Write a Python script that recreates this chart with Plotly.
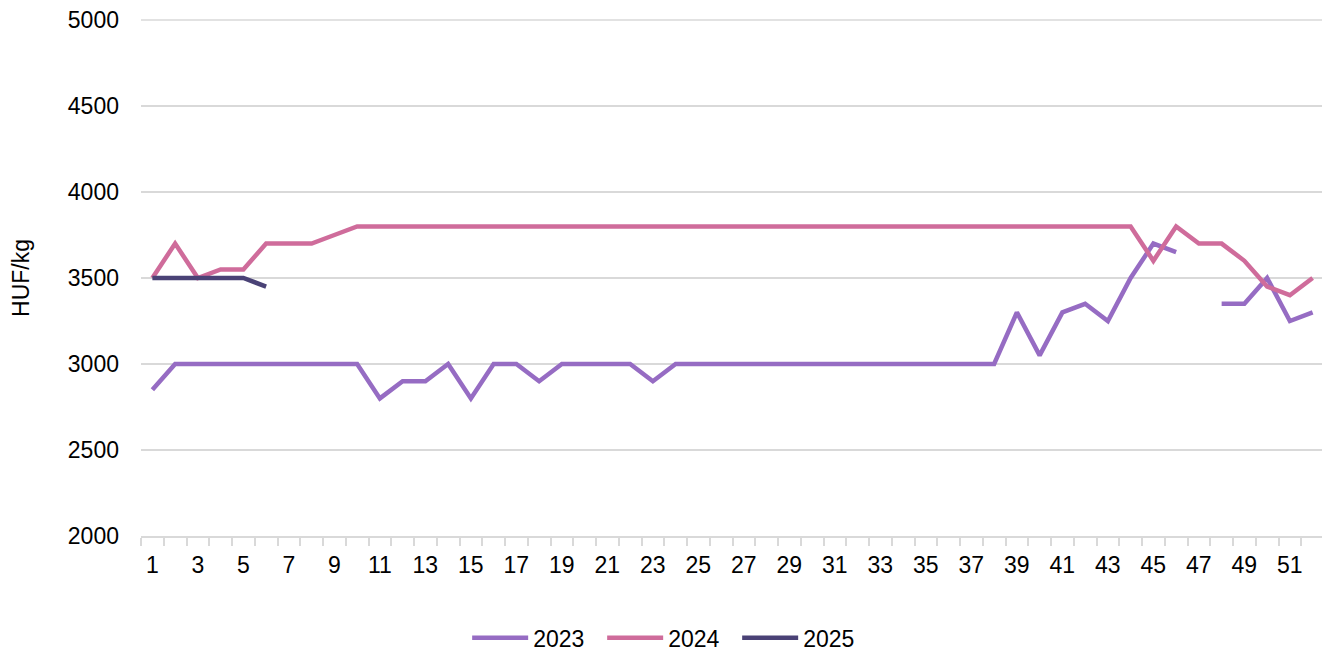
import plotly.graph_objects as go

weeks = list(range(1, 53))

y2023 = [2850, 3000, 3000, 3000, 3000, 3000, 3000, 3000, 3000, 3000,
         2800, 2900, 2900, 3000, 2800, 3000, 3000, 2900, 3000, 3000,
         3000, 3000, 2900, 3000, 3000, 3000, 3000, 3000, 3000, 3000,
         3000, 3000, 3000, 3000, 3000, 3000, 3000, 3000, 3300, 3050,
         3300, 3350, 3250, 3500, 3700, 3650, None, 3350, 3350, 3500,
         3250, 3300]

y2024 = [3500, 3700, 3500, 3550, 3550, 3700, 3700, 3700, 3750, 3800,
         3800, 3800, 3800, 3800, 3800, 3800, 3800, 3800, 3800, 3800,
         3800, 3800, 3800, 3800, 3800, 3800, 3800, 3800, 3800, 3800,
         3800, 3800, 3800, 3800, 3800, 3800, 3800, 3800, 3800, 3800,
         3800, 3800, 3800, 3800, 3600, 3800, 3700, 3700, 3600, 3450,
         3400, 3500]

y2025 = [3500, 3500, 3500, 3500, 3500, 3450]

tick_labels = [str(w) for w in range(1, 53, 2)]
y_ticks = [2000, 2500, 3000, 3500, 4000, 4500, 5000]

series = [("2023", y2023, "#966CC3"), ("2024", y2024, "#CF6C9B"), ("2025", y2025, "#4A4276")]

fig = go.Figure()
for name, vals, col in series:
    fig.add_trace(go.Scatter(x=weeks[:len(vals)], y=vals, name=name, mode="lines",
                             line=dict(color=col, width=4.5), connectgaps=False))

font = dict(family="Liberation Sans, Arial, sans-serif", size=23, color="#000000")

fig.update_layout(
    width=1322, height=646,
    margin=dict(l=133, r=6, t=12, b=118),
    plot_bgcolor="white", paper_bgcolor="white",
    font=font,
    showlegend=True,
    legend=dict(orientation="h", xref="container", x=0.5005, xanchor="center",
                yref="container", y=0.025, yanchor="middle", font=font,
                itemwidth=56,
                entrywidth=64, entrywidthmode="pixels", traceorder="normal"),
    xaxis=dict(range=[0.5, 52.5], tickmode="array", automargin=False,
               tickvals=list(range(1, 53, 2)), ticktext=tick_labels,
               ticks="", showgrid=False, showline=True, linecolor="#D9D9D9", linewidth=1.5,
               ticklabelstandoff=8, zeroline=False,
               minor=dict(tickmode="array", tickvals=[i + 0.5 for i in range(0, 53)],
                          ticks="outside", ticklen=8, tickcolor="#D9D9D9", tickwidth=1.5,
                          showgrid=False)),
    yaxis=dict(range=[y_ticks[0], y_ticks[-1]], tickvals=y_ticks,
               showgrid=True, gridcolor="#D9D9D9", gridwidth=1.5, zeroline=False,
               automargin=False, ticklabeloverflow="allow",
               showline=False, ticks="", ticklabelstandoff=21,
               title=dict(text="HUF/kg", font=font, standoff=35)),
)

# top gridline (at the upper end of the y range)
fig.add_shape(type="line", xref="paper", yref="paper", x0=0, x1=1, y0=1, y1=1,
              line=dict(color="#D9D9D9", width=1.5), layer="below")

fig.write_html("out.html")
